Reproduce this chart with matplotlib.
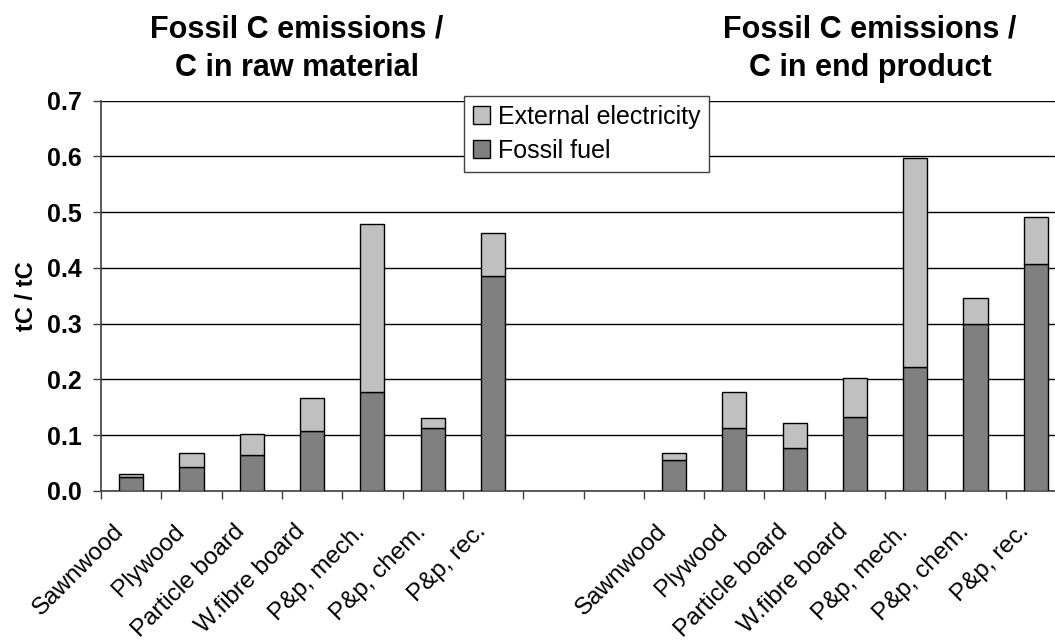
import matplotlib
matplotlib.use("Agg")
import matplotlib.pyplot as plt
import numpy as np
from matplotlib.patches import Patch
from matplotlib.transforms import ScaledTranslation

plt.rcParams['font.family'] = ['Liberation Sans', 'DejaVu Sans']

categories = ["Sawnwood", "Plywood", "Particle board", "W.fibre board",
              "P&p, mech.", "P&p, chem.", "P&p, rec."]

# Fossil C emissions / C in raw material
raw_fossil = [0.025, 0.043, 0.064, 0.108, 0.178, 0.113, 0.385]
raw_total = [0.031, 0.069, 0.102, 0.166, 0.479, 0.131, 0.463]
# Fossil C emissions / C in end product
end_fossil = [0.056, 0.113, 0.078, 0.132, 0.223, 0.299, 0.408]
end_total = [0.069, 0.178, 0.122, 0.203, 0.598, 0.347, 0.491]

group_titles = [("Fossil C emissions /", "C in raw material"),
                ("Fossil C emissions /", "C in end product")]
yticks = [0.0, 0.1, 0.2, 0.3, 0.4, 0.5, 0.6, 0.7]
legend_labels = ["External electricity", "Fossil fuel"]

c_fossil = "#808080"
c_elec = "#C0C0C0"

W, H = 1055, 644
fig = plt.figure(figsize=(W / 100, H / 100), dpi=100)
ax_left, ax_right_px, ax_top, ax_bot = 101, 1066, 100.7, 491
ax = fig.add_axes([ax_left / W, 1 - ax_bot / H, (ax_right_px - ax_left) / W, (ax_bot - ax_top) / H])

n = len(categories)
x_raw = np.arange(n)
x_end = np.arange(n) + n + 2
raw_elec = np.array(raw_total) - np.array(raw_fossil)
end_elec = np.array(end_total) - np.array(end_fossil)

bw = 0.4
for xs, fos, ele in [(x_raw, raw_fossil, raw_elec), (x_end, end_fossil, end_elec)]:
    ax.bar(xs, fos, width=bw, color=c_fossil, edgecolor="black", linewidth=1.0, zorder=3)
    ax.bar(xs, ele, bottom=fos, width=bw, color=c_elec, edgecolor="black", linewidth=1.0, zorder=3)

total_slots = 2 * n + 2
ax.set_xlim(-0.5, total_slots - 0.5)
ax.set_ylim(0, 0.7)
ax.set_yticks(yticks)
ax.set_yticklabels([f"{v:.1f}" for v in yticks], fontsize=18, fontweight="bold")
ax.yaxis.grid(True, color="black", linewidth=1.0, zorder=0)
ax.set_axisbelow(True)

xpos = list(x_raw) + list(x_end)
ax.set_xticks(xpos)
ax.set_xticklabels(categories + categories, rotation=45, ha="right", va="top",
                   rotation_mode="anchor", fontsize=17.5)
ax.tick_params(axis="x", which="major", length=0, pad=14)
offset = ScaledTranslation(-18 / 100, -10 / 100, fig.dpi_scale_trans)
for lab in ax.get_xticklabels():
    lab.set_transform(lab.get_transform() + offset)
ax.set_xticks(np.arange(-0.5, total_slots, 1.0), minor=True)
ax.tick_params(axis="x", which="minor", length=6, color="#404040", width=1)
ax.tick_params(axis="y", length=6, color="#404040", width=1, pad=8)

for s in ["top", "right"]:
    ax.spines[s].set_visible(False)
for s in ["left", "bottom"]:
    ax.spines[s].set_color("#404040")
    ax.spines[s].set_linewidth(1.2)

ax.set_ylabel("tC / tC", fontsize=17, fontweight="bold", labelpad=6)

for cx, (l1, l2) in zip([297, 870], group_titles):
    fig.text(cx / W, 1 - 30 / H, l1, ha="center", va="center", fontsize=22, fontweight="bold")
    fig.text(cx / W, 1 - 68 / H, l2, ha="center", va="center", fontsize=22, fontweight="bold")

handles = [Patch(facecolor=c_elec, edgecolor="black", linewidth=1.0),
           Patch(facecolor=c_fossil, edgecolor="black", linewidth=1.0)]
leg = ax.legend(handles, legend_labels, loc="upper left",
                bbox_to_anchor=(464 / W, 1 - 96 / H), bbox_transform=fig.transFigure,
                borderaxespad=0, fontsize=18, frameon=True, fancybox=False,
                framealpha=1, edgecolor="#404040", handlelength=0.7, handleheight=0.7,
                handletextpad=0.3, labelspacing=0.4, borderpad=0.35)
leg.get_frame().set_linewidth(1.0)
leg.set_zorder(5)

fig.savefig("out.png", dpi=100)
